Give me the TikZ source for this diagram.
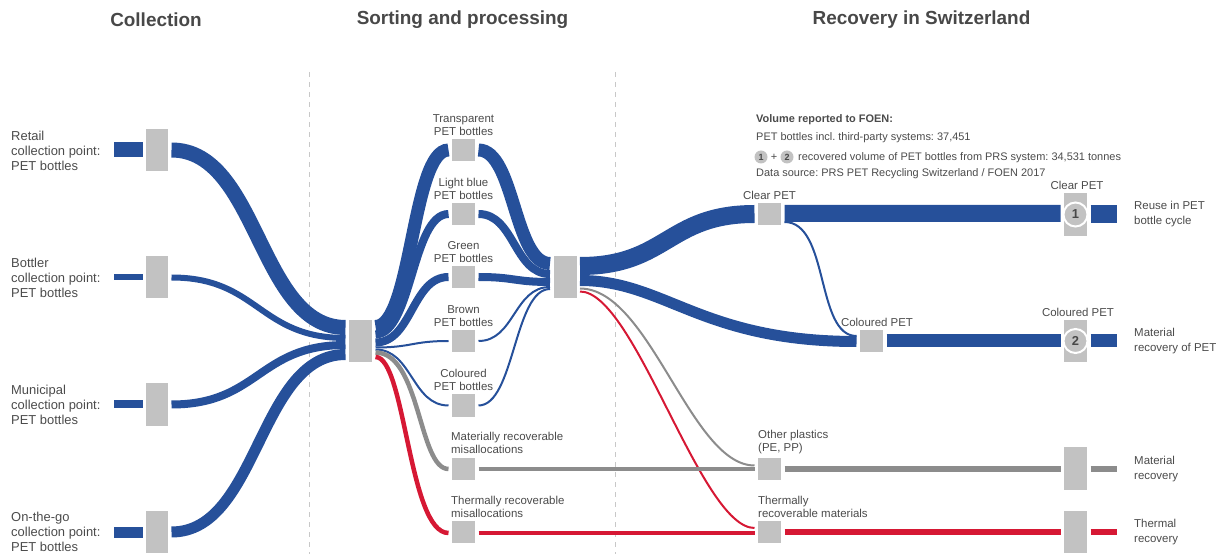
\documentclass[tikz,border=0pt]{standalone}
\usepackage{fontspec}
\setmainfont{Liberation Sans}
\usetikzlibrary{calc}
\definecolor{pblue}{RGB}{38,80,154}
\definecolor{pred}{RGB}{214,24,52}
\definecolor{pgray}{RGB}{140,140,140}
\definecolor{ngray}{RGB}{194,194,194}
\definecolor{txt}{RGB}{75,75,75}
\definecolor{ttl}{RGB}{72,72,72}
\definecolor{dashc}{RGB}{200,200,200}
\frenchspacing
\begin{document}
\begin{tikzpicture}[x=1bp,y=-1bp,
  box/.style={rectangle, fill=ngray, minimum width=23bp, minimum height=22bp, inner sep=0pt, outer sep=3.5bp},
  tallbox/.style={box, minimum height=42bp},
  bf/.style={draw=pblue},
  gf/.style={draw=pgray},
  rf/.style={draw=pred},
  ttlstyle/.style={text=ttl, font=\fontsize{19}{22}\selectfont\bfseries, inner sep=0pt},
  llab/.style={text=txt, font=\fontsize{13}{15}\selectfont, align=left, inner sep=0pt, anchor=west},
  slab/.style={text=txt, font=\fontsize{11.5}{13}\selectfont, align=center, inner sep=0pt, anchor=south},
  sllab/.style={text=txt, font=\fontsize{11.5}{13}\selectfont, align=left, inner sep=0pt, anchor=south west},
  rlab/.style={text=txt, font=\fontsize{11.5}{15}\selectfont, align=left, inner sep=0pt, anchor=west},
  info/.style={text=txt, font=\fontsize{11}{12}\selectfont, inner sep=0pt, anchor=base west},
  numc/.style={circle, fill=ngray, draw=white, line width=2bp, minimum size=24bp, inner sep=0pt, text=ttl, font=\fontsize{13}{13}\selectfont\bfseries},
  smallc/.style={circle, fill=ngray, minimum size=13bp, inner sep=0pt, text=ttl, font=\fontsize{9}{9}\selectfont\bfseries}
]
\useasboundingbox (0,0) rectangle (1224,554);

% titles
\node[ttlstyle] (t1) at (156,20) {Collection};
\node[ttlstyle] (t2) at (462.5,20) {Sorting and processing};
\node[ttlstyle] (t3) at (921.5,20) {Recovery in Switzerland};

% dashed separators
\draw[dashc, line width=1bp, dash pattern=on 5bp off 5bp] (309,72) -- (309,554);
\draw[dashc, line width=1bp, dash pattern=on 5bp off 5bp] (615,72) -- (615,554);

% nodes
\node[tallbox, minimum width=22bp] (c1) at (157,150) {};
\node[tallbox, minimum width=22bp] (c2) at (157,277) {};
\node[tallbox, minimum width=22bp] (c3) at (157,404.5) {};
\node[tallbox, minimum width=22bp] (c4) at (157,531.5) {};
\node[tallbox] (h1) at (360.5,341) {};
\node[box] (s1) at (463.5,150) {};
\node[box] (s2) at (463.5,214) {};
\node[box] (s3) at (463.5,277) {};
\node[box] (s4) at (463.5,341) {};
\node[box] (s5) at (463.5,405.5) {};
\node[box] (s6) at (463.5,468.5) {};
\node[box] (s7) at (463.5,532) {};
\node[tallbox] (h2) at (565,277) {};
\node[box] (r1) at (769.5,214) {};
\node[box] (r2) at (871.5,341) {};
\node[box] (r3) at (769.5,468.5) {};
\node[box] (r4) at (769.5,532) {};
\node[tallbox, minimum height=43bp] (f1) at (1075.5,214.5) {};
\node[tallbox] (f2) at (1075.5,341) {};
\node[tallbox, minimum height=43bp] (f3) at (1075.5,468.5) {};
\node[tallbox] (f4) at (1075.5,532) {};

\coordinate (in1) at (114,150);
\coordinate (in2) at (114,277.5);
\coordinate (in3) at (114,404.5);
\coordinate (in4) at (114,532);
\coordinate (o1) at (1117,214);
\coordinate (o2) at (1117,341);
\coordinate (o3) at (1117,469);
\coordinate (o4) at (1117,532);

% input stubs
\draw[bf, line width=15bp] (in1) -- (c1.west |- in1);
\draw[bf, line width=6bp] (in2) -- (c2.west |- in2);
\draw[bf, line width=8bp] (in3) -- (c3.west |- in3);
\draw[bf, line width=11bp] (in4) -- (c4.west |- in4);

% collection -> hub1
\draw[bf, line width=15bp] (c1.east) .. controls +(87,0) and +(-87,0) .. ($(h1.west)+(0,-13.5)$);
\draw[bf, line width=6bp] ($(c2.east)+(0,0.5)$) .. controls +(87,0) and +(-87,0) .. ($(h1.west)+(0,-3)$);
\draw[bf, line width=8bp] (c3.east) .. controls +(87,0) and +(-87,0) .. ($(h1.west)+(0,4)$);
\draw[bf, line width=11bp] ($(c4.east)+(0,0.5)$) .. controls +(87,0) and +(-87,0) .. ($(h1.west)+(0,13.5)$);

% hub1 -> sorting
\draw[bf, line width=13bp] ($(h1.east)+(0,-14.5)$) .. controls +(36.5,0) and +(-36.5,0) .. (s1.west);
\draw[bf, line width=8bp] ($(h1.east)+(0,-6.5)$) .. controls +(36.5,0) and +(-36.5,0) .. (s2.west);
\draw[bf, line width=8bp] ($(h1.east)+(0,1.5)$) .. controls +(36.5,0) and +(-36.5,0) .. (s3.west);
\draw[bf, line width=2bp] ($(h1.east)+(0,6.5)$) .. controls +(36.5,0) and +(-36.5,0) .. (s4.west);
\draw[bf, line width=2bp] ($(h1.east)+(0,8.5)$) .. controls +(36.5,0) and +(-36.5,0) .. (s5.west);
\draw[gf, line width=4.5bp] ($(h1.east)+(0,11.5)$) .. controls +(45,0) and +(-30,0) .. ($(s6.west)+(0,0.5)$);
\draw[rf, line width=4.5bp] ($(h1.east)+(0,16)$) .. controls +(30,0) and +(-40,0) .. ($(s7.west)+(0,1)$);

% sorting -> hub2
\draw[bf, line width=13bp] (s1.east) .. controls +(36,0) and +(-36,0) .. ($(h2.west)+(0,-13.5)$);
\draw[bf, line width=8bp] (s2.east) .. controls +(36,0) and +(-36,0) .. ($(h2.west)+(0,-3)$);
\draw[bf, line width=8bp] (s3.east) .. controls +(36,0) and +(-36,0) .. ($(h2.west)+(0,5)$);
\draw[bf, line width=2bp] (s4.east) .. controls +(36,0) and +(-36,0) .. ($(h2.west)+(0,10)$);
\draw[bf, line width=2bp] (s5.east) .. controls +(36,0) and +(-36,0) .. ($(h2.west)+(0,12)$);

% hub2 -> recovery
\draw[bf, line width=18bp] ($(h2.east)+(0,-11)$) .. controls +(87,0) and +(-87,0) .. (r1.west);
\draw[bf, line width=11bp] ($(h2.east)+(0,3.5)$) .. controls +(85,0) and +(-156,0) .. ($(r2.west)+(0,0.5)$);
\draw[gf, line width=2bp] ($(h2.east)+(0,11.5)$) .. controls +(70,0) and +(-64,0) .. ($(r3.west)+(0,-3)$);
\draw[rf, line width=2bp] ($(h2.east)+(0,14.5)$) .. controls +(55,0) and +(-54,0) .. ($(r4.west)+(0,-4)$);

% misallocations straight
\draw[gf, line width=4.5bp] ($(s6.east)+(0,0.5)$) -- ($(r3.west)+(0,0.5)$);
\draw[rf, line width=4.5bp] ($(s7.east)+(0,1)$) -- ($(r4.west)+(0,1)$);

% recovery -> final
\draw[bf, line width=17bp] ($(r1.east)+(0,-0.5)$) -- ($(f1.west)+(0,-1)$);
\draw[bf, line width=2bp] ($(r1.east)+(0,8)$) .. controls +(45,0) and +(-41,0) .. ($(r2.west)+(0,-5)$);
\draw[bf, line width=13bp] (r2.east) -- (f2.west);
\draw[gf, line width=6bp] ($(r3.east)+(0,0.5)$) -- ($(f3.west)+(0,0.5)$);
\draw[rf, line width=6bp] (r4.east) -- (f4.west);

% output stubs
\draw[bf, line width=18bp] (f1.east |- o1) -- (o1);
\draw[bf, line width=13bp] (f2.east |- o2) -- (o2);
\draw[gf, line width=6bp] (f3.east |- o3) -- (o3);
\draw[rf, line width=6bp] (f4.east |- o4) -- (o4);

% number circles
\node[numc] (n1) at (f1) {1};
\node[numc] (n2) at (f2) {2};

% left labels
\node[llab] (l1) at (11,151) {Retail\\collection point:\\PET bottles};
\node[llab] (l2) at (11,277.5) {Bottler\\collection point:\\PET bottles};
\node[llab] (l3) at (11,404.5) {Municipal\\collection point:\\PET bottles};
\node[llab] (l4) at (11,531.5) {On-the-go\\collection point:\\PET bottles};

% sorting labels
\node[slab] (ls1) at (s1.north) {Transparent\\PET bottles};
\node[slab] (ls2) at (s2.north) {Light blue\\PET bottles};
\node[slab] (ls3) at (s3.north) {Green\\PET bottles};
\node[slab] (ls4) at (s4.north) {Brown\\PET bottles};
\node[slab] (ls5) at (s5.north) {Coloured\\PET bottles};
\node[sllab] (ls6) at (451,454) {Materially recoverable\\misallocations};
\node[sllab] (ls7) at (451,518) {Thermally recoverable\\misallocations};

% recovery labels
\node[slab] (lr1) at (r1.north) {Clear PET};
\node[slab] (lr2) at ($(r2.north)+(5.5,0)$) {Coloured PET};
\node[sllab] (lr3) at (758,454) {Other plastics\\(PE, PP)};
\node[sllab] (lr4) at (758,518) {Thermally\\recoverable materials};
\node[slab] (lf1) at ($(f1.north)+(1.5,0)$) {Clear PET};
\node[slab] (lf2) at ($(f2.north)+(2.5,0)$) {Coloured PET};

% final labels
\node[rlab] (lo1) at (1134,214) {Reuse in PET\\bottle cycle};
\node[rlab] (lo2) at (1134,341.5) {Material\\recovery of PET};
\node[rlab] (lo3) at (1134,469.5) {Material\\recovery};
\node[rlab] (lo4) at (1134,532.5) {Thermal\\recovery};

% info block
\node[info, font=\fontsize{11}{12}\selectfont\bfseries] (i1) at (756,123) {Volume reported to FOEN:};
\node[info] (i2) at (756,141) {PET bottles incl. third-party systems: 37,451};
\node[smallc] (k1) at (761,157) {1};
\node[info, anchor=center] (kp) at (774,157) {+};
\node[smallc] (k2) at (787,157) {2};
\node[info] (i3) at (798,160.5) {recovered volume of PET bottles from PRS system: 34,531 tonnes};
\node[info] (i4) at (756,177) {Data source: PRS PET Recycling Switzerland / FOEN 2017};
\end{tikzpicture}
\end{document}
